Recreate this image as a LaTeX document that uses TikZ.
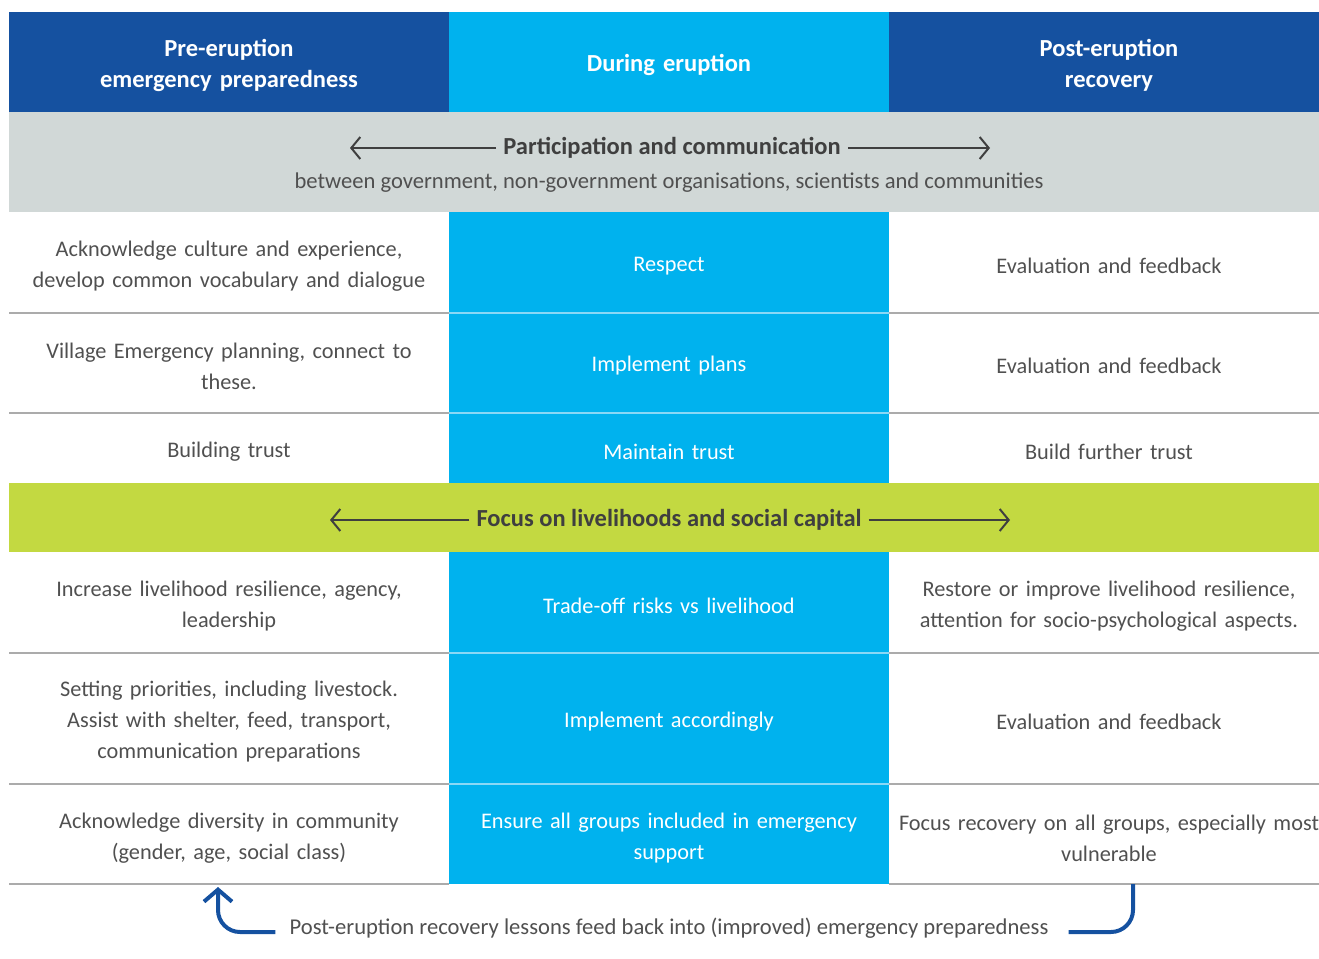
\documentclass[tikz,border=0pt]{standalone}
\usepackage{fontspec}
\setmainfont{Carlito}
\usetikzlibrary{arrows.meta,positioning}
\definecolor{vdarkblue}{HTML}{1551A0}
\definecolor{vcyan}{HTML}{00B2EE}
\definecolor{vcyanline}{HTML}{8AD8F6}
\definecolor{vgrey}{HTML}{D1D8D7}
\definecolor{vgreen}{HTML}{C3D941}
\definecolor{vline}{HTML}{ABABAB}
\definecolor{vtext}{HTML}{505050}
\definecolor{vband}{HTML}{3F3F3F}

\begin{document}
\begin{tikzpicture}[x=1pt,y=-1pt,
  cell/.style={text width=440pt,align=center,inner sep=0pt,
    font=\fontsize{22.3}{31}\selectfont,text=vtext},
  midcell/.style={cell,text=white},
  head/.style={cell,font=\fontsize{24.5}{31}\selectfont\bfseries,text=white},
  bandtitle/.style={inner sep=7pt,font=\fontsize{24.5}{28}\selectfont\bfseries,text=vband},
  note/.style={inner sep=0pt,font=\fontsize{22.6}{28}\selectfont,text=vtext},
  bandarrow/.style={-{Straight Barb[length=9pt,width=22pt]},vband,line width=2pt},
  fbline/.style={vdarkblue,line width=4pt,rounded corners=22pt},
  fbarrow/.style={fbline,-{Straight Barb[length=12pt,width=28pt]}}]

  \useasboundingbox (0,0) rectangle (1319,958);

  % ---- Column and band fills --------------------------------
  \fill[vdarkblue] (9,12)   rectangle (449,112);
  \fill[vcyan]     (449,12) rectangle (889,112);
  \fill[vdarkblue] (889,12) rectangle (1319,112);
  \fill[vgrey]     (9,112)  rectangle (1319,212);
  \fill[vcyan]     (449,212) rectangle (889,884);
  \fill[vgreen]    (9,483)  rectangle (1319,552);

  % ---- Row rules ---------------------------------------------
  \foreach \ry in {313,413,653,784} {
    \draw[vline,line width=2pt] (9,\ry) -- (449,\ry);
    \draw[vline,line width=2pt] (889,\ry) -- (1319,\ry);
    \draw[vcyanline,line width=2pt] (449,\ry) -- (889,\ry);
  }
  \draw[vline,line width=2pt] (9,884) -- (449,884);
  \draw[vline,line width=2pt] (889,884) -- (1319,884);

  % ---- Headers -----------------------------------------------
  \node[head] (hpre)  at (229,65)  {Pre-eruption\\emergency preparedness};
  \node[head] (hdur)  at (669,65)  {During eruption};
  \node[head] (hpost) at (1109,65) {Post-eruption\\recovery};

  % ---- Participation band ------------------------------------
  \node[bandtitle] (pctitle) at (672,148) {Participation and communication};
  \node[note] (pcsub) at (669,183)
    {between government, non-government organisations, scientists and communities};
  \coordinate (pcL) at (350,148);
  \coordinate (pcR) at (990,148);
  \draw[bandarrow] (pctitle.west) -- (pcL);
  \draw[bandarrow] (pctitle.east) -- (pcR);

  % ---- Rows before the livelihood band -----------------------
  \node[cell]    (pre1)  at (229,266)  {Acknowledge culture and experience,\\develop common vocabulary and dialogue};
  \node[midcell] (dur1)  at (669,266)  {Respect};
  \node[cell]    (post1) at (1109,266) {Evaluation and feedback};

  \node[cell]    (pre2)  at (229,366)  {Village Emergency planning, connect to\\these.};
  \node[midcell] (dur2)  at (669,366)  {Implement plans};
  \node[cell]    (post2) at (1109,366) {Evaluation and feedback};

  \node[cell]    (pre3)  at (229,452)  {Building trust};
  \node[midcell] (dur3)  at (669,452)  {Maintain trust};
  \node[cell]    (post3) at (1109,452) {Build further trust};

  % ---- Livelihood band ---------------------------------------
  \node[bandtitle] (fltitle) at (669,520) {Focus on livelihoods and social capital};
  \coordinate (flL) at (330,520);
  \coordinate (flR) at (1010,520);
  \draw[bandarrow] (fltitle.west) -- (flL);
  \draw[bandarrow] (fltitle.east) -- (flR);

  % ---- Rows after the livelihood band ------------------------
  \node[cell]    (pre4)  at (229,606)  {Increase livelihood resilience, agency,\\leadership};
  \node[midcell] (dur4)  at (669,606)  {Trade-off risks vs livelihood};
  \node[cell]    (post4) at (1109,606) {Restore or improve livelihood resilience,\\attention for socio-psychological aspects.};

  \node[cell]    (pre5)  at (229,722)  {Setting priorities, including livestock.\\Assist with shelter, feed, transport,\\communication preparations};
  \node[midcell] (dur5)  at (669,722)  {Implement accordingly};
  \node[cell]    (post5) at (1109,722) {Evaluation and feedback};

  \node[cell]    (pre6)  at (229,838)  {Acknowledge diversity in community\\(gender, age, social class)};
  \node[midcell] (dur6)  at (669,838)  {Ensure all groups included in emergency\\support};
  \node[cell]    (post6) at (1109,838) {Focus recovery on all groups, especially most\\vulnerable};

  % ---- Feedback loop -----------------------------------------
  \node[note] (fbtext) at (669,928)
    {Post-eruption recovery lessons feed back into (improved) emergency preparedness};
  \coordinate (fbL) at (218,887);
  \coordinate (fbR) at (1133,884);
  \draw[fbarrow] ([xshift=-14pt,yshift=-4pt]fbtext.west) -| (fbL);
  \draw[fbline] (fbR) |- ([xshift=20pt,yshift=-4pt]fbtext.east);

\end{tikzpicture}
\end{document}
